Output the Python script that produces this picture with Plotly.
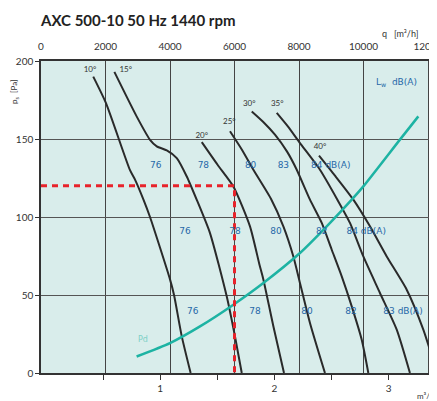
import plotly.graph_objects as go

# ---- data ----
q_ticks = [0, 2000, 4000, 6000, 8000, 10000, 12000]
p_ticks = [0, 50, 100, 150, 200]
qs_ticks = [1, 2, 3]
qs_minor_ticks = [0.5, 1.5, 2.5]

angles = ["10°", "15°", "20°", "25°", "30°", "35°", "40°"]

q10 = [1620, 2015, 2760, 2915, 3180, 3380, 4000, 4125, 4365, 4640]
p10 = [190, 173, 130, 124, 111, 100, 60, 50, 23.5, 0]
q15 = [2275, 2965, 3380, 3590, 3900, 4210, 4520, 4830, 5240, 5760, 6015, 6225]
p15 = [193, 164.5, 149.5, 145.3, 142.7, 137.8, 126, 111, 89.7, 49, 23.5, 0]
q20 = [4985, 5475, 5965, 6480, 6775, 6895, 7205, 7535]
p20 = [148, 133.5, 119.6, 94, 69.4, 60, 30, 0]
q25 = [5860, 6235, 6585, 7130, 7515, 7825, 8030, 8340, 8805]
p25 = [155, 143, 130.3, 111.7, 94, 74.7, 57.7, 32.1, 0]
q30 = [6535, 6885, 7255, 7630, 7930, 8340, 8705, 9015, 9325, 9635, 9945, 10150]
p30 = [167.7, 161.1, 152.8, 141.9, 130.3, 111.1, 96.2, 79, 61.9, 42.7, 21.3, 0]
q35 = [7310, 7660, 8030, 8650, 9190, 9580, 9995, 10510, 11030, 11440]
p35 = [166.7, 157.9, 147.4, 130.3, 111.1, 96.2, 74.7, 51.3, 27.8, 0]
q40 = [8620, 9115, 9685, 10200, 10720, 11340, 11855, 12220, 12285]
p40 = [139.3, 126.5, 111.1, 94, 74.7, 53.4, 27.8, 4.2, 0]

curves_q = [q10, q15, q20, q25, q30, q35, q40]
curves_p = [p10, p15, p20, p25, p30, p35, p40]

angle_q = [1519, 2626, 4983, 5839, 6459, 7327, 8651]
angle_p = [194.4, 194.4, 152.1, 160.6, 172.4, 172.4, 144.9]

pd_q = [2965, 4000, 4930, 5965, 6895, 8030, 8860, 9635, 9995, 11130, 11700]
pd_p = [10.6, 19.2, 29.9, 43.8, 57.7, 76.9, 94, 111.1, 119.6, 149.6, 164.5]

duty_q = 6000
duty_p = 120

lw_text = ["76", "78", "80", "83", "84 dB(A)",
           "76", "78", "80", "82", "84 dB(A)",
           "76", "78", "80", "82", "83 dB(A)"]
lw_q = [3555, 5035, 6500, 7515, 8985,
        4465, 6015, 7285, 8705, 10085,
        4705, 6635, 8250, 9610, 11225]
lw_p = [132.9, 132.9, 132.9, 132.9, 132.9,
        90.6, 90.6, 90.6, 90.6, 90.6,
        39.3, 39.3, 39.3, 39.3, 39.3]

# ---- figure geometry (page body has an 8px default margin) ----
OFF = 8
W, H = 437 - OFF, 401 - OFF
ML, MR, MT, MB = 41 - OFF, 0, 61 - OFF, 28
plot_w = W - ML - MR
plot_h = H - MT - MB
q_per_px = 12000 / 387.0
q_max = plot_w * q_per_px
qs_min = -5 / 114.2
qs_max = qs_min + plot_w / 114.2

BLUE = "#2668a8"
DARK = "#2a2a2a"
TEAL = "#1db3a3"

fig = go.Figure()

for qq, pp in zip(curves_q, curves_p):
    fig.add_trace(go.Scatter(x=qq, y=pp, mode="lines",
                             line=dict(color=DARK, width=2, shape="spline", smoothing=0.6),
                             hoverinfo="skip", showlegend=False))

fig.add_trace(go.Scatter(x=pd_q, y=pd_p, mode="lines",
                         line=dict(color=TEAL, width=2.5, shape="spline", smoothing=0.6),
                         hoverinfo="skip", showlegend=False))

# duty point dashed lines
fig.add_trace(go.Scatter(x=[0, duty_q, duty_q], y=[duty_p, duty_p, 0], mode="lines",
                         line=dict(color="#e8232b", width=3, dash="6px,5px"),
                         hoverinfo="skip", showlegend=False))

# sound power labels
fig.add_trace(go.Scatter(x=lw_q, y=lw_p, mode="text", text=lw_text,
                         textfont=dict(family="DejaVu Sans", size=9, color=BLUE),
                         hoverinfo="skip", showlegend=False))

# blade angle labels
fig.add_trace(go.Scatter(x=angle_q, y=angle_p, mode="text", text=angles,
                         textfont=dict(family="Lato", size=8, color="#333333"),
                         hoverinfo="skip", showlegend=False))

# invisible trace that registers the bottom (m³/s) axis
fig.add_trace(go.Scatter(x=[1], y=[-10], xaxis="x2", yaxis="y", mode="markers",
                         marker=dict(size=1, color="rgba(0,0,0,0)"),
                         showlegend=False, hoverinfo="skip"))

fig.add_annotation(x=3172, y=21.3, xref="x", yref="y", text="Pd", showarrow=False,
                   font=dict(family="DejaVu Sans", size=8, color="#7dd0c6"))
fig.add_annotation(x=11008, y=186.3, xref="x", yref="y", text="L<sub>w</sub>  dB(A)", showarrow=False,
                   font=dict(family="DejaVu Sans", size=9, color=BLUE))


def px2xp(px):
    return (px - OFF - ML) / plot_w


def py2yp(py):
    return (MT + plot_h - (py - OFF)) / plot_h


fig.add_annotation(x=px2xp(420), y=py2yp(33), xref="paper", yref="paper", text="q   [m³/h]",
                   showarrow=False, xanchor="right", yanchor="middle",
                   font=dict(family="Lato", size=9, color="#333333"))
fig.add_annotation(x=px2xp(421), y=py2yp(396), xref="paper", yref="paper", text="m³/s",
                   showarrow=False, xanchor="left", yanchor="middle", xshift=-6,
                   font=dict(family="Lato", size=8, color="#333333"))
fig.add_annotation(x=px2xp(14), y=py2yp(92), xref="paper", yref="paper", text="p<sub>s</sub>  [Pa]",
                   showarrow=False, textangle=-90, xanchor="center", yanchor="middle",
                   font=dict(family="Lato", size=8, color="#333333"))
fig.add_annotation(x=px2xp(38), y=py2yp(20), xref="paper", yref="paper",
                   text="<b>AXC 500-10 50 Hz 1440 rpm</b>",
                   showarrow=False, xanchor="left", yanchor="middle",
                   font=dict(family="Lato", size=15, color="#222222"))

fig.update_layout(
    width=W, height=H, autosize=False,
    margin=dict(l=ML, r=MR, t=MT, b=MB, pad=0),
    paper_bgcolor="white",
    plot_bgcolor="#d9edeb",
    hovermode=False,
    xaxis=dict(side="top", range=[0, q_max], tickvals=q_ticks, ticktext=[str(v) for v in q_ticks],
               showgrid=True, gridcolor="#444444", gridwidth=1.3, zeroline=False,
               showline=True, linecolor="#333333", linewidth=1.5,
               ticks="outside", ticklen=5, tickcolor="rgba(0,0,0,0)",
               ticklabeloverflow="allow",
               tickfont=dict(family="Lato", size=10, color="#333333"), fixedrange=True,
               automargin=False),
    xaxis2=dict(overlaying="x", side="bottom", anchor="y", range=[qs_min, qs_max],
                tickvals=qs_ticks, ticktext=[str(v) for v in qs_ticks], showgrid=False, zeroline=False,
                showline=True, linecolor="#333333", linewidth=2,
                ticks="outside", ticklen=5, tickcolor="#333333", tickwidth=1,
                minor=dict(tickvals=qs_minor_ticks, ticks="outside", ticklen=5,
                           tickcolor="#333333", showgrid=False),
                tickfont=dict(family="Lato", size=10, color="#333333"), fixedrange=True,
                automargin=False),
    yaxis=dict(range=[0, 200], tickvals=p_ticks, showgrid=True, gridcolor="#555555", gridwidth=1.3,
               zeroline=False, showline=True, linecolor="#333333", linewidth=1.5,
               ticks="outside", ticklen=4, tickcolor="#333333",
               tickfont=dict(family="Lato", size=10, color="#333333"), fixedrange=True,
               automargin=False),
)

fig.write_html("out.html", config={"displayModeBar": False})
